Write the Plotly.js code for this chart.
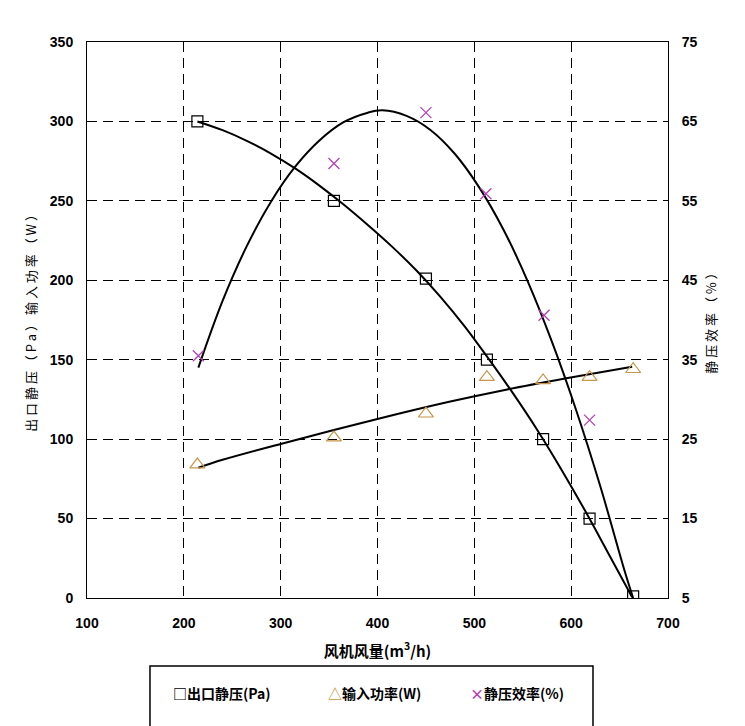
<!DOCTYPE html>
<html>
<head>
<meta charset="utf-8">
<script src="https://cdn.plot.ly/plotly-3.0.1.min.js"></script>
<style>html,body{margin:0;padding:0;background:#fff;}#chart{width:745px;height:726px;}</style>
</head>
<body>
<div id="chart"></div>
<script>
// Measured points
const airflow = [214, 355, 450, 513, 571, 619, 664];
const staticPressure = [300, 250, 201, 150, 100, 50, 1];
const inputPower = [84, 101, 116, 139, 137, 139, 144];
const effAirflow = [215, 355, 450, 512, 572, 619];
const staticEfficiency = [35.5, 59.7, 66.1, 55.9, 40.6, 27.4];

// Trend curves
const pressureCurveX = [214, 240, 265, 290, 315, 340, 365, 390, 415, 440, 465, 490, 515, 540, 565, 590, 615, 640, 663];
const pressureCurveY = [300, 294.5, 287.8, 279.8, 270.4, 259.6, 247.7, 234.8, 221.2, 206.3, 189.6, 171, 150.4, 128.8, 105.8, 80.8, 54.3, 26.3, 0.5];
const powerCurveX = [215, 240, 300, 402, 474, 534, 595, 663];
const powerCurveY = [82, 87, 97, 113, 123.5, 131.3, 138.3, 145.6];
const effCurveX = [215, 240, 265, 290, 315, 340, 365, 390, 405, 430, 455, 480, 505, 530, 555, 580, 605, 630, 655, 664];
const effCurveY = [34.0, 42.4, 49.3, 54.9, 59.3, 62.6, 64.9, 66.1, 66.4, 65.7, 63.9, 60.9, 56.7, 51.4, 44.9, 37.3, 28.7, 19.1, 8.5, 5.0];

const xTicks = [100, 200, 300, 400, 500, 600, 700];
const yTicks = [0, 50, 100, 150, 200, 250, 300, 350];
const y2Ticks = [5, 15, 25, 35, 45, 55, 65, 75];

const seriesNames = ['出口静压(Pa)', '输入功率(W)', '静压效率(%)'];
const triColor = '#c8954a';
const xColor = '#b43cb4';

const lineStyle = {color: '#000', width: 2, shape: 'spline', smoothing: 1};

const traces = [
  {x: pressureCurveX, y: pressureCurveY, mode: 'lines', line: lineStyle, showlegend: false, hoverinfo: 'skip'},
  {x: powerCurveX, y: powerCurveY, mode: 'lines', line: lineStyle, showlegend: false, hoverinfo: 'skip'},
  {x: effCurveX, y: effCurveY, yaxis: 'y2', mode: 'lines', line: lineStyle, showlegend: false, hoverinfo: 'skip'},
  {x: airflow, y: staticPressure, name: seriesNames[0], mode: 'markers',
   marker: {symbol: 'square-open', size: 11, color: '#000', line: {width: 1.2, color: '#000'}}, showlegend: false},
  {x: airflow, y: inputPower, name: seriesNames[1], mode: 'markers',
   marker: {symbol: 'triangle-up-open', size: 13, color: triColor, line: {width: 1.2, color: triColor}}, showlegend: false},
  {x: effAirflow, y: staticEfficiency, yaxis: 'y2', name: seriesNames[2], mode: 'markers',
   marker: {symbol: 'x-thin-open', size: 11, color: xColor, line: {width: 1.2, color: xColor}}, showlegend: false}
];

const tickFont = {family: 'Liberation Sans, Arial, sans-serif', size: 14, color: '#000', weight: 'bold'};
const cjk = '"Noto Sans CJK SC", "Noto Sans", sans-serif';

const gridCommon = {showgrid: true, gridcolor: '#000', gridwidth: 1, griddash: '10px,6px',
  showline: true, linecolor: '#000', linewidth: 1, zeroline: false, ticks: '', tickfont: tickFont};

const layout = {
  width: 745, height: 726,
  margin: {l: 87, r: 77, t: 42, b: 128},
  paper_bgcolor: '#fff', plot_bgcolor: '#fff',
  showlegend: false,
  xaxis: Object.assign({}, gridCommon, {
    range: [100, 700], tickvals: xTicks, ticktext: xTicks.map(String), mirror: true,
    ticklabelstandoff: 12,
    title: {text: '风机风量(m<sup>3</sup>/h)', font: {family: cjk, size: 15, color: '#000', weight: 'bold'}, standoff: 16}
  }),
  yaxis: Object.assign({}, gridCommon, {
    range: [0, 350], tickvals: yTicks, ticktext: yTicks.map(String),
    ticklabelstandoff: 10,
    title: {text: '出 口 静 压 （ P a ） 输 入 功 率 （ W ）', font: {family: cjk, size: 13, color: '#000'}, standoff: 10}
  }),
  yaxis2: {
    overlaying: 'y', side: 'right', range: [5, 75], tickvals: y2Ticks, ticktext: y2Ticks.map(String),
    showgrid: false, showline: true, linecolor: '#000', linewidth: 1, zeroline: false, ticks: '',
    tickfont: tickFont, ticklabelstandoff: 10,
    title: {text: '静 压 效 率 （ % ）', font: {family: cjk, size: 13, color: '#000'}, standoff: 10}
  },
  shapes: [
    {type: 'rect', xref: 'paper', yref: 'paper', x0: 0.1084, x1: 0.8709, y0: -0.35, y1: -0.1223,
     line: {color: '#000', width: 1.5}, fillcolor: 'rgba(0,0,0,0)'}
  ],
  annotations: [
    {xref: 'paper', yref: 'paper', x: 0.145, y: -0.1709, xanchor: 'left', yanchor: 'middle', showarrow: false,
     text: '□' + seriesNames[0], font: {family: cjk, size: 14, color: '#000', weight: 'bold'}},
    {xref: 'paper', yref: 'paper', x: 0.411, y: -0.1709, xanchor: 'left', yanchor: 'middle', showarrow: false,
     text: '<span style="color:' + triColor + '">△</span>' + seriesNames[1], font: {family: cjk, size: 14, color: '#000', weight: 'bold'}},
    {xref: 'paper', yref: 'paper', x: 0.655, y: -0.1709, xanchor: 'left', yanchor: 'middle', showarrow: false,
     text: '<span style="color:' + xColor + '">×</span>' + seriesNames[2], font: {family: cjk, size: 14, color: '#000', weight: 'bold'}}
  ]
};

Plotly.newPlot('chart', traces, layout, {displayModeBar: false, staticPlot: true});
</script>
</body>
</html>
